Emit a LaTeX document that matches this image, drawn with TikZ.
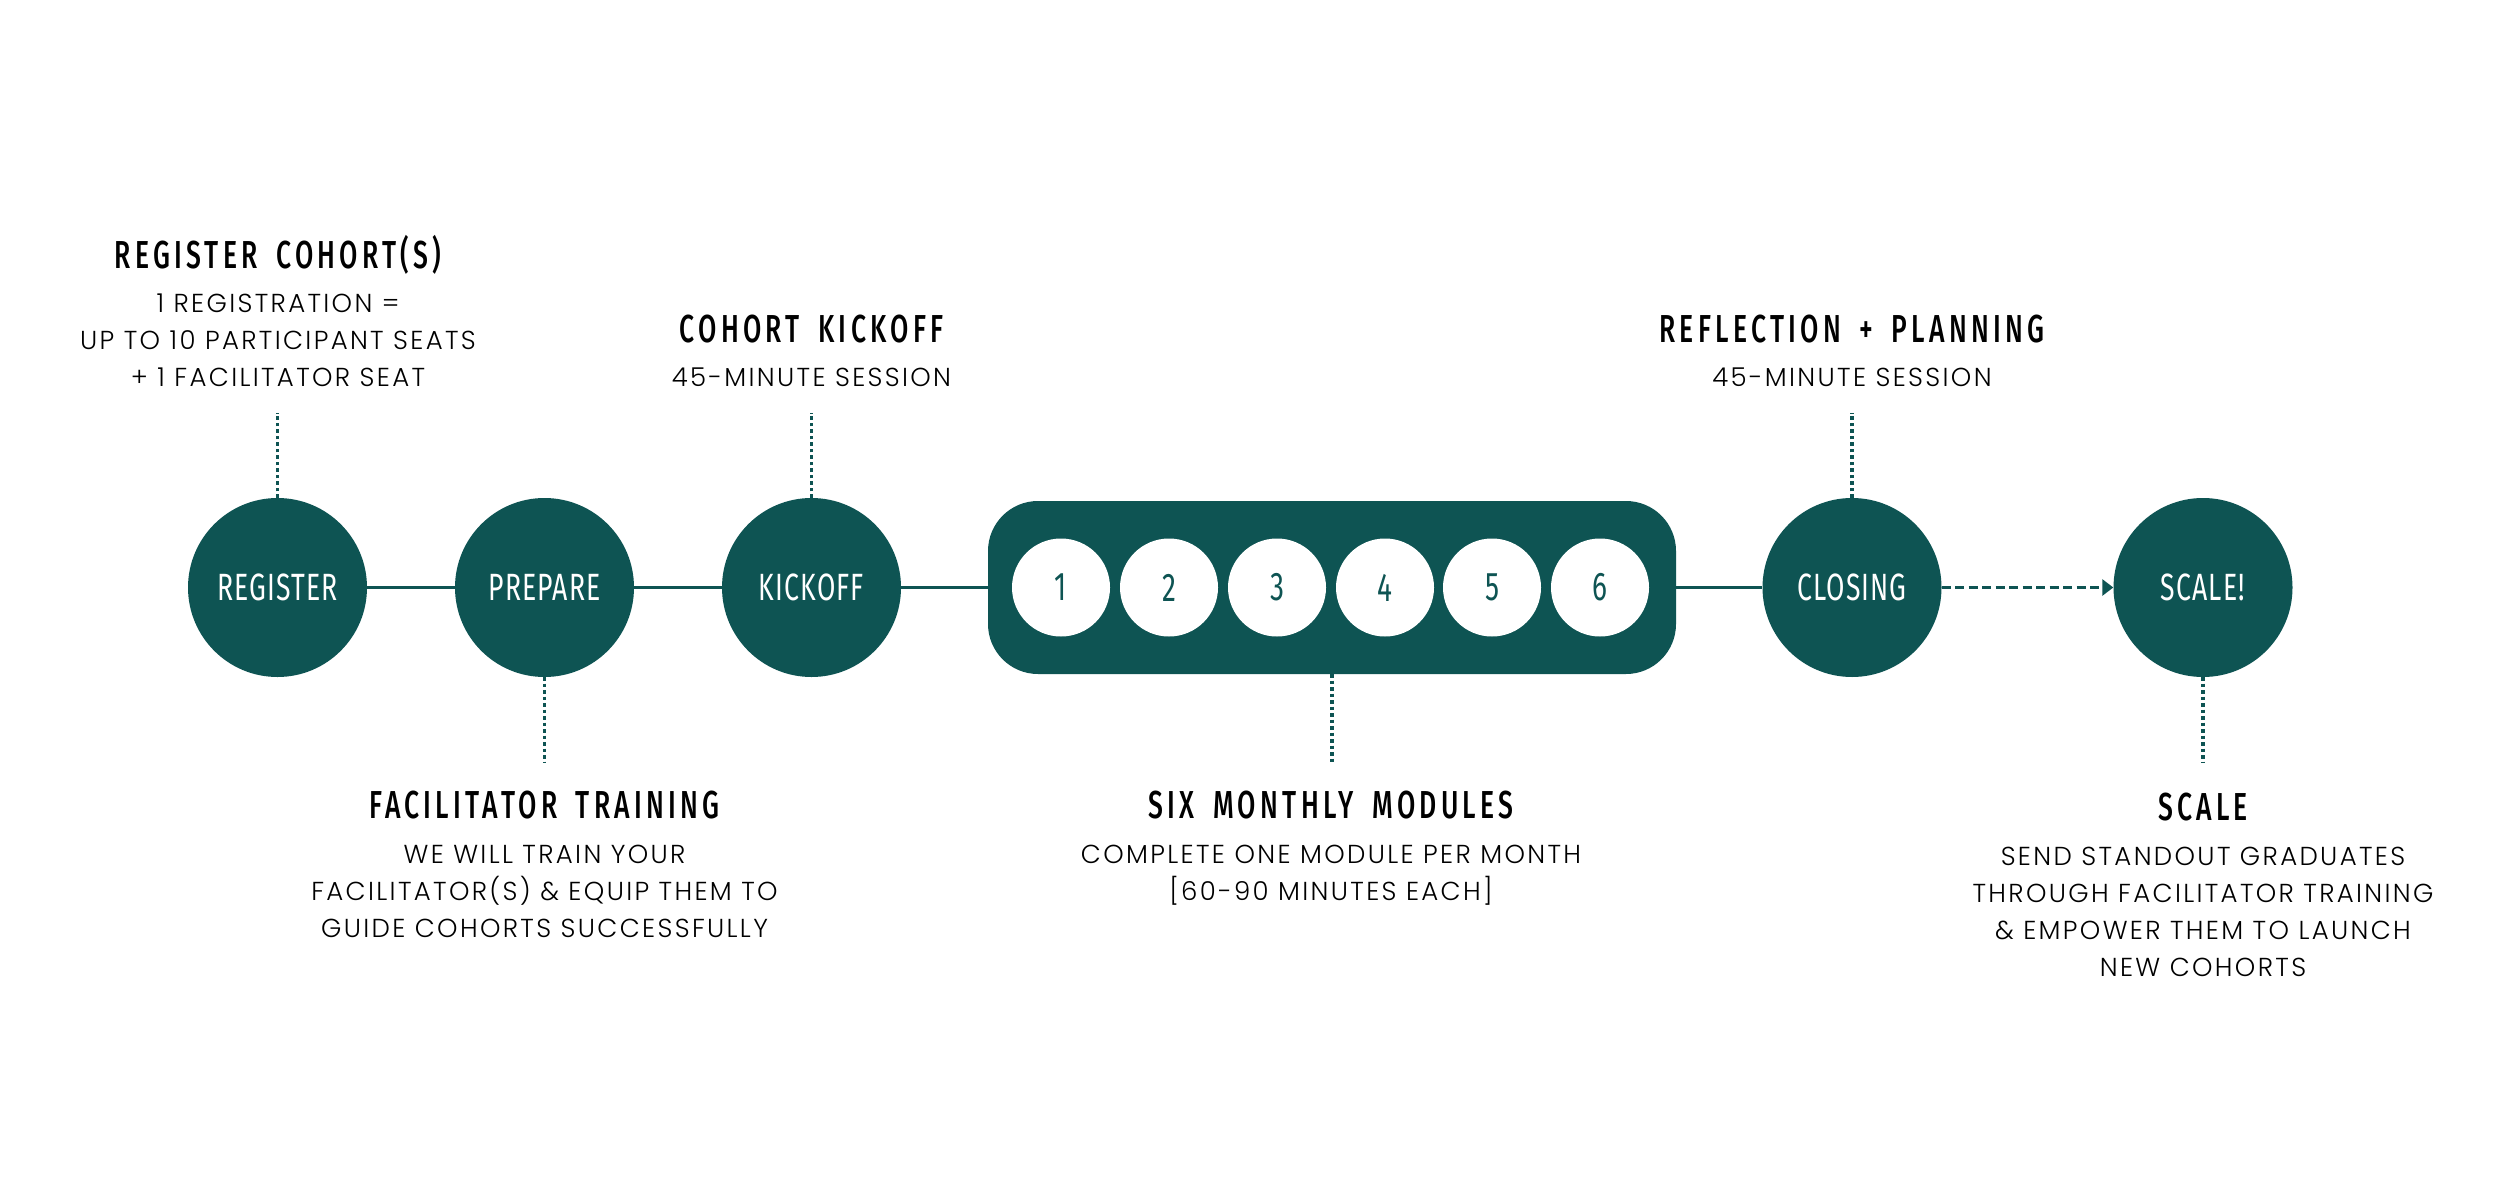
\documentclass[tikz,border=0pt]{standalone}
\usepackage{fontspec}
\usetikzlibrary{arrows.meta}
\newfontfamily\headfont[FakeStretch=0.68,LetterSpace=11,WordSpace=1.7,UprightFont={* Medium}]{Fira Sans}
\newfontfamily\labfont[FakeStretch=0.7,LetterSpace=3]{Fira Sans}
\newfontfamily\bodyfont[LetterSpace=9,UprightFont={* Light}]{Poppins}
\definecolor{teal}{RGB}{14,84,83}
\begin{document}
\begin{tikzpicture}[x=1pt,y=-1pt,
  bigc/.style={circle,fill=teal,minimum size=179pt,inner sep=0pt,text=white,font=\labfont\fontsize{38}{40}\selectfont},
  modbox/.style={rectangle,rounded corners=50pt,fill=teal,minimum width=688pt,minimum height=173pt,inner sep=0pt},
  modc/.style={circle,fill=white,minimum size=98pt,inner sep=0pt,text=teal,font=\labfont\fontsize{40}{40}\selectfont},
  link/.style={draw=teal,line width=3pt},
  dotl/.style={draw=teal,line width=3.5pt,dash pattern=on 3.5pt off 3pt},
  head/.style={anchor=base,inner sep=0pt,text=black,font=\headfont\fontsize{39}{40}\selectfont},
  body/.style={anchor=base,inner sep=0pt,text=black,align=center,font=\bodyfont\fontsize{26}{37}\selectfont}]
\fill[white] (0,0) rectangle (2500,1204);
\useasboundingbox (0,0) rectangle (2500,1204);

% main nodes
\node[bigc] (reg) at (277.5,587.5) {REGISTER};
\node[bigc] (prep) at (544.5,587.5) {PREPARE};
\node[bigc] (kick) at (811.5,587.5) {KICKOFF};
\node[modbox] (mods) at (1332,587.5) {};
\node[modc] (m1) at (1061,587.5) {1};
\node[modc] (m2) at (1169,587.5) {2};
\node[modc] (m3) at (1277,587.5) {3};
\node[modc] (m4) at (1385,587.5) {4};
\node[modc] (m5) at (1492,587.5) {5};
\node[modc] (m6) at (1600,587.5) {6};
\node[bigc] (close) at (1852,587.5) {CLOSING};
\node[bigc] (scale) at (2203,587.5) {SCALE!};

% connectors
\draw[link] (reg) -- (prep);
\draw[link] (prep) -- (kick);
\draw[link] (kick) -- (mods);
\draw[link] (mods) -- (close);
\draw[link,dash pattern=on 9pt off 4.5pt,-{Triangle[length=11pt,width=16pt]}] (close) -- (scale);

% dotted leaders
\coordinate (regT) at (277.5,413);
\coordinate (kickT) at (811.5,413);
\coordinate (closeT) at (1852,413);
\coordinate (prepB) at (544.5,762);
\coordinate (modsB) at (1332,762);
\coordinate (scaleB) at (2203,762);
\draw[dotl] (reg.north) -- (regT);
\draw[dotl] (kick.north) -- (kickT);
\draw[dotl] (close.north) -- (closeT);
\draw[dotl] (prep.south) -- (prepB);
\draw[dotl] (mods.south) -- (modsB);
\draw[dotl] (scale.south) -- (scaleB);

% texts (multi-line nodes are placed at the baseline of their last line)
\node[head] (t1) at (278,268) {REGISTER COHORT(S)};
\node[body] (b1) at (278,386) {1 REGISTRATION =\\UP TO 10 PARTICIPANT SEATS\\+ 1 FACILITATOR SEAT};
\node[head] (t2) at (811.5,342) {COHORT KICKOFF};
\node[body] (b2) at (811.5,386) {45-MINUTE SESSION};
\node[head] (t3) at (1852,342) {REFLECTION + PLANNING};
\node[body] (b3) at (1852,386) {45-MINUTE SESSION};
\node[head] (t4) at (544.5,818) {FACILITATOR TRAINING};
\node[body] (b4) at (544.5,937) {WE WILL TRAIN YOUR\\FACILITATOR(S) \& EQUIP THEM TO\\GUIDE COHORTS SUCCESSFULLY};
\node[head] (t5) at (1331,818) {SIX MONTHLY MODULES};
\node[body] (b5) at (1331,900) {COMPLETE ONE MODULE PER MONTH\\{[60-90 MINUTES EACH]}};
\node[head] (t6) at (2203,820) {SCALE};
\node[body] (b6) at (2203,976) {SEND STANDOUT GRADUATES\\THROUGH FACILITATOR TRAINING\\\& EMPOWER THEM TO LAUNCH\\NEW COHORTS};
\end{tikzpicture}
\end{document}
